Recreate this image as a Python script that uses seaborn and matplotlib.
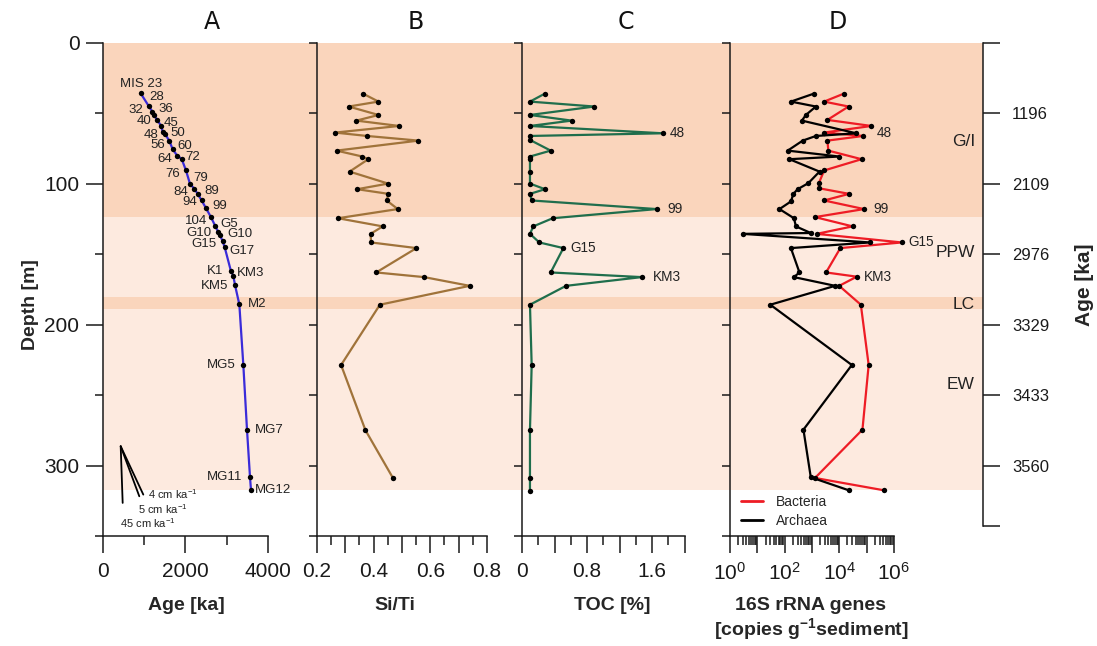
import matplotlib
matplotlib.use("Agg")
import numpy as np
import pandas as pd
import matplotlib.pyplot as plt
import matplotlib.transforms as mtrans
from matplotlib.lines import Line2D
import seaborn as sns

# ------------------------------------------------------------------ data
# Panel A: age model (tie points)
age_labels = ["MIS 23", "28", "32", "36", "40", "45", "48", "50", "56", "60", "64", "72",
              "76", "79", "84", "89", "94", "99", "104", "G5", "G10", "G10", "G15", "G17",
              "K1", "KM3", "KM5", "M2", "MG5", "MG7", "MG11", "MG12"]
age_ka = [913, 1107, 1196, 1244, 1317, 1406, 1446, 1503, 1608, 1689, 1802, 1907,
          2012, 2109, 2214, 2295, 2392, 2497, 2618, 2715, 2796, 2836, 2901, 2949,
          3103, 3159, 3200, 3305, 3402, 3491, 3564, 3588]
age_depth = [35.7, 44.7, 48.7, 51.4, 54.9, 58.6, 62.9, 64.5, 69.5, 75.4, 80.1, 82.3,
             90.5, 100.0, 103.5, 107.1, 111.8, 117.3, 123.6, 129.6, 134.3, 136.2, 140.9, 144.9,
             162.1, 165.2, 171.8, 185.6, 228.6, 274.5, 308.3, 317.5]
# label placement (alignment, dx px, dy px)
age_lab_ha = ["center", "left", "right", "left", "right", "left", "right", "left", "right", "left",
              "right", "left", "right", "left", "right", "left", "right", "left", "right", "left",
              "right", "left", "right", "left", "right", "left", "right", "left", "right", "left",
              "right", "left"]
age_lab_dx = [0, 1, -9, 4, -6, 3, -4, 5, -4, 5, -5, 4, -6, 3, -6, 7, -5, 6, -4, 5,
              -7, 7, -6, 5, -8, 4, -7, 9, -8, 8, -8, 4]
age_lab_dy = [9, 9, 2, 6, -1, 3, -3, 1, -4, 3, -3, 2, -4, 6, -3, 3, -2, 2, -4, 2,
              -1, 1, -3, -4, 0, 3, -1, 0, 0, 0, 0, 0]

# sedimentation-rate key (panel A)
rate_labels = ["4 cm ka$^{\\mathregular{-1}}$", "5 cm ka$^{\\mathregular{-1}}$",
               "45 cm ka$^{\\mathregular{-1}}$"]
rate_origin = (429, 286.3)
rate_end_age = [977, 880, 477]
rate_end_depth = [320.6, 321.8, 326.5]
rate_lab_age = [1091, 848, 412]
rate_lab_depth = [320.0, 331.0, 340.5]

# Panel B: Si/Ti
siti_depth = [35.9, 41.6, 45.1, 51.1, 55.1, 58.9, 63.6, 66.0, 69.3, 76.4, 80.6, 82.5, 91.3,
              99.8, 103.8, 107.1, 111.8, 117.9, 124.4, 130.2, 135.5, 141.6, 145.6, 162.9,
              166.2, 172.4, 185.8, 228.6, 274.9, 308.8]
siti = [0.362, 0.417, 0.312, 0.417, 0.339, 0.490, 0.264, 0.377, 0.558, 0.269, 0.360, 0.381,
        0.315, 0.451, 0.342, 0.452, 0.446, 0.485, 0.274, 0.432, 0.389, 0.391, 0.551, 0.409,
        0.578, 0.739, 0.422, 0.285, 0.371, 0.468]

# Panel C: TOC
toc_depth = [35.9, 41.6, 45.1, 51.1, 55.1, 58.9, 64.1, 66.0, 68.8, 76.4, 80.6, 82.5, 91.3,
             99.8, 103.8, 107.1, 111.8, 117.9, 124.4, 130.2, 135.5, 141.6, 145.6, 162.9,
             166.2, 172.4, 185.8, 228.6, 274.9, 308.8, 317.7]
toc = [0.283, 0.098, 0.890, 0.098, 0.611, 0.098, 1.731, 0.098, 0.098, 0.353, 0.098, 0.098,
       0.098, 0.098, 0.283, 0.098, 0.119, 1.658, 0.378, 0.139, 0.098, 0.213, 0.509, 0.353,
       1.473, 0.542, 0.098, 0.119, 0.098, 0.098, 0.098]
toc_lab = ["48", "99", "G15", "KM3"]
toc_lab_idx = [6, 17, 22, 24]
toc_lab_dx = [7, 11, 7, 11]

# Panel D: 16S rRNA gene copies
bac_depth = [35.9, 41.6, 45.1, 54.6, 58.9, 63.6, 66.0, 69.3, 76.4, 82.5, 90.5, 99.5, 103.1,
             107.1, 111.8, 117.9, 123.6, 130.2, 135.5, 141.6, 145.6, 162.9, 165.9, 172.4,
             185.8, 228.6, 274.5, 308.8, 317.5]
bacteria = [1.5e4, 2.8e3, 2.2e4, 3.7e3, 1.5e5, 2.8e3, 7.6e4, 3.7e3, 4.0e3, 6.6e4, 2.8e3,
            1.8e3, 1.8e3, 2.3e4, 2.8e3, 8.1e4, 1.3e3, 3.1e4, 1.5e3, 1.95e6, 1.1e4, 3.3e3,
            4.4e4, 1.0e4, 6.2e4, 1.2e5, 7.1e4, 1.3e3, 4.2e5]
arc_depth = [35.9, 41.6, 45.1, 51.1, 55.1, 64.1, 66.0, 69.3, 76.4, 80.6, 82.5, 91.3, 99.5,
             103.8, 107.1, 112.5, 117.9, 124.4, 130.2, 134.9, 135.5, 141.6, 145.6, 162.9,
             166.2, 172.4, 185.8, 228.6, 274.5, 308.3, 317.5]
archaea = [1.2e3, 1.7e2, 1.4e3, 6.0e2, 4.3e2, 4.2e4, 1.4e3, 4.6e2, 1.3e2, 1.0e4, 1.5e2,
           1.9e3, 7.4e2, 3.0e2, 2.1e2, 1.7e2, 6.5e1, 2.2e2, 2.6e2, 9.1e2, 2.9, 1.35e5,
           1.7e2, 3.5e2, 2.2e2, 7.1e3, 3.0e1, 2.9e4, 4.9e2, 9.1e2, 2.2e4]
bac_lab = ["48", "99", "G15", "KM3"]
bac_lab_idx = [6, 15, 19, 22]
bac_lab_dx = [13, 9, 7, 7]
bac_lab_dy = [3, 0, 0, 0]

# zones
zone_names = ["G/I", "PPW", "LC", "EW"]
zone_top = [0, 123.5, 180, 188.5]
zone_bottom = [123.5, 180, 188.5, 317]
zone_colors = ["#FAD5BC", "#FDEADF", "#FAD5BC", "#FDEADF"]
zone_label_depth = [70, 149, 186, 242.5]

# right axis (age) ticks
right_tick_depth = [0, 50, 100, 150, 200, 250, 300, 343]
right_tick_labels = ["", "1196", "2109", "2976", "3329", "3433", "3560", ""]

panel_titles = ["A", "B", "C", "D"]

# ------------------------------------------------------------------ style
sns.set_theme(style="ticks")
plt.rcParams["font.family"] = ["Liberation Sans", "DejaVu Sans"]
plt.rcParams["mathtext.fontset"] = "custom"
plt.rcParams["mathtext.rm"] = "Liberation Sans"
plt.rcParams["mathtext.it"] = "Liberation Sans:italic"
plt.rcParams["mathtext.bf"] = "Liberation Sans:bold"

INK = "#1a1a1a"
W, H = 1097, 646
TOP, BOT = 43, 536
fig = plt.figure(figsize=(W / 100, H / 100), dpi=100)


def rect(l, r):
    return [l / W, 1 - BOT / H, (r - l) / W, (BOT - TOP) / H]


axA = fig.add_axes(rect(103, 317))
axB = fig.add_axes(rect(317, 522))
axC = fig.add_axes(rect(522, 730))
axD = fig.add_axes(rect(730, 983))
axes = [axA, axB, axC, axD]

for ax in axes:
    ax.set_facecolor("none")
    for t, b, c in zip(zone_top, zone_bottom, zone_colors):
        ax.axhspan(t, b, color=c, lw=0, zorder=0)
    ax.set_ylim(350, 0)
    ax.spines["top"].set_visible(False)
    ax.spines["right"].set_visible(False)
    for s in ["left", "bottom"]:
        ax.spines[s].set_linewidth(1.1)
        ax.spines[s].set_color(INK)
    ax.tick_params(which="both", direction="out", color=INK, width=1.1, labelcolor=INK)
    ax.tick_params(axis="x", which="major", length=12, pad=7, labelsize=15)
    ax.tick_params(axis="x", which="minor", length=6.5)
    ax.grid(False)
    ax.set_xlabel("")
    ax.set_ylabel("")

# y ticks
axA.set_yticks([0, 100, 200, 300])
axA.set_yticks([50, 150, 250, 350], minor=True)
axA.tick_params(axis="y", which="major", length=12, labelsize=15, pad=5)
axA.tick_params(axis="y", which="minor", length=6)
for ax in [axB, axC, axD]:
    ax.set_yticks(list(range(0, 351, 50)))
    ax.tick_params(axis="y", which="major", length=6, labelleft=False)

# ---- Panel A
axA.set_xlim(0, 5188)
sns.lineplot(x=age_ka, y=age_depth, sort=False, estimator=None, color="#3A2BD9", lw=1.6,
             ax=axA, zorder=2)
sns.scatterplot(x=age_ka, y=age_depth, color="black", s=15, linewidth=0, ax=axA, zorder=3)
for lab, a, d, ha, dx, dy in zip(age_labels, age_ka, age_depth, age_lab_ha, age_lab_dx, age_lab_dy):
    axA.annotate(lab, (a, d), xytext=(dx, dy), textcoords="offset pixels", ha=ha,
                 va="center", fontsize=9.5, color="#222222")
for ea, ed in zip(rate_end_age, rate_end_depth):
    axA.plot([rate_origin[0], ea], [rate_origin[1], ed], color="black", lw=1.3)
for lab, a, d in zip(rate_labels, rate_lab_age, rate_lab_depth):
    axA.text(a, d, lab, ha="left", va="center", fontsize=8, color="#222222")
axA.set_xticks([0, 2000, 4000])
axA.set_xticks([1000, 3000], minor=True)
axA.set_xticklabels(["0", "2000", "4000"])
axA.spines["bottom"].set_bounds(0, 4000)
axA.set_xlabel("Age [ka]", fontsize=14, fontweight="bold")
axA.xaxis.set_label_coords(0.388, -0.124)
axA.text(-0.341, 0.469, "Depth [m]", transform=axA.transAxes, rotation=90,
         ha="center", va="center", fontsize=14, fontweight="bold")

# ---- Panel B
axB.set_xlim(0.2, 0.9236)
sns.lineplot(x=siti, y=siti_depth, sort=False, estimator=None, color="#A0733A", lw=1.6,
             ax=axB, zorder=2)
sns.scatterplot(x=siti, y=siti_depth, color="black", s=15, linewidth=0, ax=axB, zorder=3)
b_ticks = [0.2, 0.3, 0.4, 0.5, 0.6, 0.7, 0.8]
axB.set_xticks(b_ticks)
axB.set_xticklabels(["0.2", "", "0.4", "", "0.6", "", "0.8"])
axB.set_xticks([0.25, 0.35, 0.45, 0.55, 0.65, 0.75], minor=True)
axB.tick_params(axis="x", which="minor", length=6.5)
axB.spines["bottom"].set_bounds(0.2, 0.8)
axB.set_xlabel("Si/Ti", fontsize=14, fontweight="bold")
axB.xaxis.set_label_coords(0.38, -0.124)

# ---- Panel C
axC.set_xlim(0, 2.56)
sns.lineplot(x=toc, y=toc_depth, sort=False, estimator=None, color="#1F6E4C", lw=1.6,
             ax=axC, zorder=2)
sns.scatterplot(x=toc, y=toc_depth, color="black", s=15, linewidth=0, ax=axC, zorder=3)
for lab, i, dx in zip(toc_lab, toc_lab_idx, toc_lab_dx):
    axC.annotate(lab, (toc[i], toc_depth[i]), xytext=(dx, 0), textcoords="offset pixels",
                 ha="left", va="center", fontsize=9.8, color="#222222")
axC.set_xticks([0, 0.4, 0.8, 1.2, 1.6, 2.0])
axC.set_xticklabels(["0", "", "0.8", "", "1.6", ""])
axC.set_xticks([0.2, 0.6, 1.0, 1.4, 1.8], minor=True)
axC.spines["bottom"].set_bounds(0, 2.0)
axC.set_xlabel("TOC [%]", fontsize=14, fontweight="bold")
axC.xaxis.set_label_coords(0.433, -0.124)

# ---- Panel D
axD.set_xscale("log")
axD.set_xlim(1, 10 ** 9.267)
sns.lineplot(x=bacteria, y=bac_depth, sort=False, estimator=None, color="#EE1C25", lw=1.6,
             ax=axD, zorder=2, label="Bacteria")
sns.lineplot(x=archaea, y=arc_depth, sort=False, estimator=None, color="black", lw=1.6,
             ax=axD, zorder=2, label="Archaea")
sns.scatterplot(x=bacteria, y=bac_depth, color="black", s=15, linewidth=0, ax=axD, zorder=3)
sns.scatterplot(x=archaea, y=arc_depth, color="black", s=15, linewidth=0, ax=axD, zorder=3)
for lab, i, dx, dy in zip(bac_lab, bac_lab_idx, bac_lab_dx, bac_lab_dy):
    axD.annotate(lab, (bacteria[i], bac_depth[i]), xytext=(dx, dy), textcoords="offset pixels",
                 ha="left", va="center", fontsize=9.8, color="#222222")
dec = [10.0 ** k for k in range(7)]
axD.set_xticks(dec)
axD.set_xticklabels(["$\\mathregular{10^{%d}}$" % k if k % 2 == 0 else "" for k in range(7)])
axD.set_xticks([m * 10.0 ** k for k in range(6) for m in range(2, 10)], minor=True)
axD.tick_params(axis="x", which="minor", length=6.5)
axD.spines["bottom"].set_bounds(1, 1e6)
axD.set_xlabel("16S rRNA genes\n[copies g$^{\\mathregular{-1}}$sediment]", fontsize=14,
               fontweight="bold", linespacing=1.1)
axD.xaxis.set_label_coords(0.32, -0.124)
handles = [Line2D([], [], color="#EE1C25", lw=2), Line2D([], [], color="black", lw=2)]
axD.legend(handles, ["Bacteria", "Archaea"], loc="upper left", bbox_to_anchor=(0.022, 0.094),
           frameon=False, fontsize=10, handlelength=1.6, handletextpad=0.9,
           borderaxespad=0, labelspacing=0.35)

blend = mtrans.blended_transform_factory(axD.transAxes, axD.transData)
for name, d in zip(zone_names, zone_label_depth):
    axD.text(0.968, d, name, transform=blend, ha="right", va="center", fontsize=12.5,
             color="#222222")

# right-hand age axis
axR = axD.twinx()
axR.set_ylim(350, 0)
for s in ["left", "top", "bottom"]:
    axR.spines[s].set_visible(False)
axR.spines["right"].set_bounds(0, 343)
axR.spines["right"].set_linewidth(1.1)
axR.spines["right"].set_color(INK)
axR.set_yticks(right_tick_depth)
axR.set_yticklabels(right_tick_labels)
axR.tick_params(axis="y", length=12, width=1.1, pad=9, labelsize=12, direction="out",
                color=INK, labelcolor=INK)
axR.grid(False)
axR.text(1.403, 0.509, "Age [ka]", transform=axR.transAxes, rotation=90,
         ha="center", va="center", fontsize=15, fontweight="bold")

# panel titles
for t, xp in zip(panel_titles, [212, 416, 626, 838]):
    fig.text(xp / W, 1 - 22 / H, t, ha="center", va="center", fontsize=17,
             family="DejaVu Sans", color="#111111")

fig.savefig("out.png", dpi=100)
